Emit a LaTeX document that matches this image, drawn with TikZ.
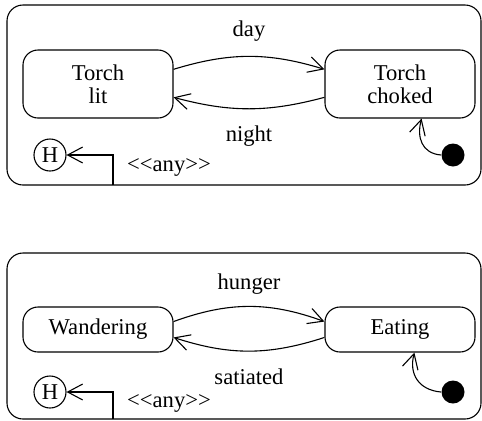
\documentclass[tikz,border=0pt]{standalone}
\usepackage{fontspec}
\setmainfont{Liberation Serif}[Ligatures=TeXOff]
\usetikzlibrary{arrows.meta}
\begin{document}
\begin{tikzpicture}[x=0.5pt,y=0.5pt,
  font=\fontsize{11.3}{11.6}\selectfont,
  line width=0.55pt,
  state/.style={draw,rounded corners=7.5pt,minimum width=75pt,inner sep=0pt,align=center},
  frame/.style={draw,rounded corners=8pt},
  hist/.style={draw,circle,minimum size=16pt,inner sep=0pt},
  startdot/.style={fill,circle,minimum size=11.5pt,inner sep=0pt},
  event/.style={inner sep=0pt},
  trans/.style={-{Straight Barb[length=7.5pt,width=8pt]}}]
\useasboundingbox (0,0) rectangle (482,420);

% day / night
\draw[frame] (7,235) rectangle (481,415);
\node[state,minimum height=34pt] (lit) at (98,336) {Torch\\lit};
\node[state,minimum height=34pt] (choked) at (400,336) {Torch\\choked};
\node[hist] (hist1) at (50,265) {H};
\node[startdot] (init1) at (453,265) {};
\coordinate (foot1) at (113,235);
\draw[trans] (lit.11) to[bend left=17] node[event,above=7pt] {day} (choked.169);
\draw[trans] (choked.190) to[bend left=15] node[event,below=8.5pt] {night} (lit.-10);
\draw[trans] (foot1) |- (hist1.east);
\node (any1) at (169,253) {<<any>>};
\draw[trans] (init1.west) to[out=175,in=-105,looseness=1.2] (choked.-58);

% hunger / satiated
\draw[frame] (7,1) rectangle (481,167);
\node[state,minimum height=22.5pt] (wander) at (98,90.5) {Wandering};
\node[state,minimum height=22.5pt] (eat) at (400,90.5) {Eating};
\node[hist] (hist2) at (50,28) {H};
\node[startdot] (init2) at (453,28) {};
\coordinate (foot2) at (113,1);
\draw[trans] (wander.6) to[bend left=20] node[event,above=6pt] {hunger} (eat.174);
\draw[trans] (eat.186) to[bend left=18] node[event,below=8.5pt] {satiated} (wander.-6);
\draw[trans] (foot2) |- (hist2.east);
\node (any2) at (169,17) {<<any>>};
\draw[trans] (init2.west) to[out=175,in=-105,looseness=1.2] (eat.-58);
\end{tikzpicture}
\end{document}
